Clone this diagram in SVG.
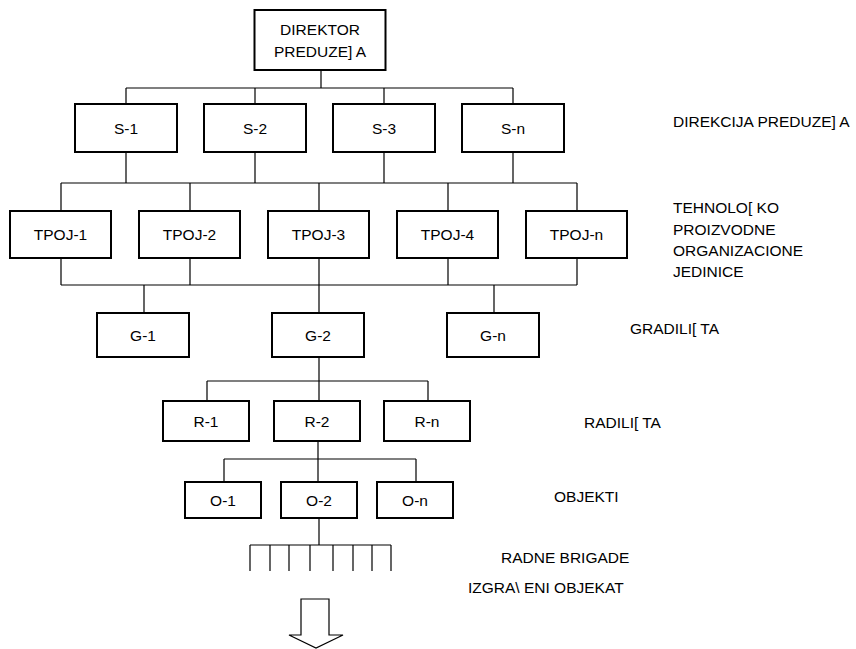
<svg xmlns="http://www.w3.org/2000/svg" width="856" height="649" viewBox="0 0 856 649">
<style>
.box{fill:#fff;stroke:#000;stroke-width:2}
.t{font-family:"Liberation Sans",Arial,sans-serif;font-size:15.5px;fill:#000;text-anchor:middle}
.l{font-family:"Liberation Sans",Arial,sans-serif;font-size:15.5px;fill:#000}
.c{stroke:#000;stroke-width:1.2;fill:none}
</style>
<rect width="856" height="649" fill="#fff"/>
<g id="connectors" class="c">
<path d="M321 70V88M126 88H513M126 88V104M255 88V104M384 88V104M513 88V104"/>
<path d="M126 152V183M255 152V183M384 152V183M513 152V183M61 183H577M61 183V211M190 183V211M319 183V211M448 183V211M577 183V211"/>
<path d="M61 258V285M190 258V285M319 258V285M448 258V285M577 258V285M61 285H577M144 285V313M319 285V313M494 285V313"/>
<path d="M319 357V381M207 381H428M207 381V401M319 381V401M428 381V401"/>
<path d="M318 441V459M224 459H416M224 459V482M318 459V482M416 459V482"/>
<path d="M319 518V545M250 545H391M250 545V571M270 545V571M289 545V571M310 545V571M333 545V571M353 545V571M372 545V571M391 545V571"/>
</g>
<g id="director"><rect class="box" x="254.5" y="10" width="131" height="60"/><text class="t" x="320" y="35">DIREKTOR</text><text class="t" x="320" y="57">PREDUZE] A</text></g>
<g id="s1"><rect class="box" x="75" y="104" width="102" height="48"/><text class="t" x="126" y="133.5">S-1</text></g>
<g id="s2"><rect class="box" x="204" y="104" width="102" height="48"/><text class="t" x="255" y="133.5">S-2</text></g>
<g id="s3"><rect class="box" x="333" y="104" width="102" height="48"/><text class="t" x="384" y="133.5">S-3</text></g>
<g id="sn"><rect class="box" x="462" y="104" width="102" height="48"/><text class="t" x="513" y="133.5">S-n</text></g>
<g id="tpoj1"><rect class="box" x="10" y="211" width="101" height="47"/><text class="t" x="60.5" y="240">TPOJ-1</text></g>
<g id="tpoj2"><rect class="box" x="139" y="211" width="101" height="47"/><text class="t" x="189.5" y="240">TPOJ-2</text></g>
<g id="tpoj3"><rect class="box" x="268" y="211" width="101" height="47"/><text class="t" x="318.5" y="240">TPOJ-3</text></g>
<g id="tpoj4"><rect class="box" x="397" y="211" width="101" height="47"/><text class="t" x="447.5" y="240">TPOJ-4</text></g>
<g id="tpojn"><rect class="box" x="526" y="211" width="101" height="47"/><text class="t" x="576.5" y="240">TPOJ-n</text></g>
<g id="g1"><rect class="box" x="97" y="313" width="92" height="44"/><text class="t" x="143" y="340.5">G-1</text></g>
<g id="g2"><rect class="box" x="272" y="313" width="92" height="44"/><text class="t" x="318" y="340.5">G-2</text></g>
<g id="gn"><rect class="box" x="447" y="313" width="92" height="44"/><text class="t" x="493" y="340.5">G-n</text></g>
<g id="r1"><rect class="box" x="163" y="401" width="86" height="40"/><text class="t" x="206" y="426.5">R-1</text></g>
<g id="r2"><rect class="box" x="274" y="401" width="86" height="40"/><text class="t" x="317" y="426.5">R-2</text></g>
<g id="rn"><rect class="box" x="384" y="401" width="86" height="40"/><text class="t" x="427" y="426.5">R-n</text></g>
<g id="o1"><rect class="box" x="185" y="482" width="76" height="36"/><text class="t" x="223" y="505.5">O-1</text></g>
<g id="o2"><rect class="box" x="281" y="482" width="76" height="36"/><text class="t" x="319" y="505.5">O-2</text></g>
<g id="on"><rect class="box" x="377" y="482" width="76" height="36"/><text class="t" x="415" y="505.5">O-n</text></g>
<g id="arrow"><polygon points="301,599 329,599 329,635 343,635 316,648 289,635 301,635" fill="#fff" stroke="#000" stroke-width="1.2"/></g>
<g id="labels">
<text class="l" x="673" y="127">DIREKCIJA PREDUZE] A</text>
<text class="l" x="673" y="213">TEHNOLO[ KO</text>
<text class="l" x="673" y="235">PROIZVODNE</text>
<text class="l" x="673" y="256">ORGANIZACIONE</text>
<text class="l" x="673" y="277">JEDINICE</text>
<text class="l" x="630" y="334">GRADILI[ TA</text>
<text class="l" x="584" y="428">RADILI[ TA</text>
<text class="l" x="554" y="502">OBJEKTI</text>
<text class="l" x="501" y="563">RADNE BRIGADE</text>
<text class="l" x="468" y="593">IZGRA\ ENI OBJEKAT</text>
</g>
</svg>
